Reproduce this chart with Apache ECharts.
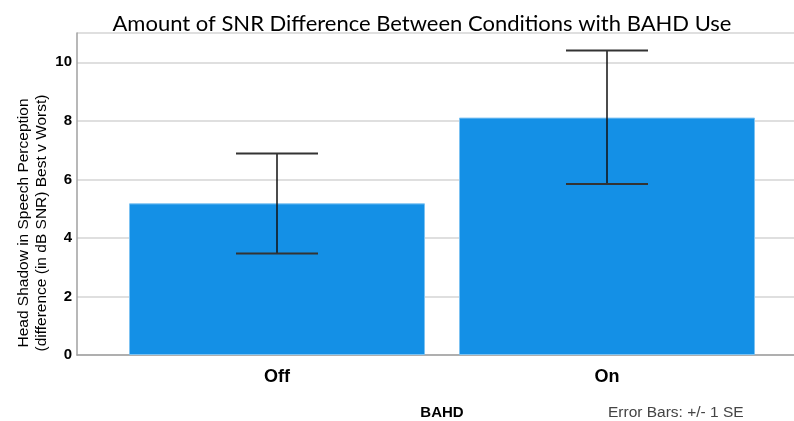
<!DOCTYPE html>
<html><head><meta charset="utf-8">
<script src="https://cdn.jsdelivr.net/npm/echarts@6/dist/echarts.min.js"></script>
<style>html,body{margin:0;padding:0;background:#fff}#c{width:794px;height:421px}</style>
</head><body><div id="c"></div>
<script>
const categories = ['Off', 'On'];
const means = [5.18, 8.11];
const errLow = [3.47, 5.84];
const errHigh = [6.88, 10.40];
const yTicks = [0, 2, 4, 6, 8, 10];

const chart = echarts.init(document.getElementById('c'));
const TOP = 33, BOTTOM = 66;
chart.setOption({
  animation: false,
  title: {
    text: 'Amount of SNR Difference Between Conditions with BAHD Use',
    left: 417, top: 8, textAlign: 'center',
    textStyle: {fontFamily: 'Lato', fontSize: 22, fontWeight: 'normal', color: '#000'}
  },
  grid: [
    {left: 77, right: -1, top: TOP, bottom: BOTTOM, outerBoundsMode: 'none', containLabel: false},
    {left: 112, right: 22, top: TOP, bottom: BOTTOM, outerBoundsMode: 'none', containLabel: false}
  ],
  xAxis: [
    {type: 'value', gridIndex: 0, min: 0, max: 1, axisLabel: {show: false}, splitLine: {show: false},
     axisTick: {show: false}, axisLine: {show: true, onZero: false, lineStyle: {color: '#a0a0a0', width: 1.5}}},
    {type: 'category', gridIndex: 1, data: categories, axisLine: {show: false}, axisTick: {show: false},
     axisLabel: {margin: 13, color: '#000', fontFamily: 'Liberation Sans', fontWeight: 'bold', fontSize: 18},
     name: 'BAHD', nameLocation: 'middle', nameGap: 50,
     nameTextStyle: {color: '#000', fontFamily: 'Liberation Sans', fontWeight: 'bold', fontSize: 15}}
  ],
  yAxis: [
    {type: 'value', gridIndex: 0, min: 0, max: 11, interval: 2,
     axisLine: {show: true, lineStyle: {color: '#a0a0a0', width: 1.5}}, axisTick: {show: false},
     axisLabel: {margin: 5, color: '#000', fontFamily: 'Liberation Sans', fontWeight: 'bold', fontSize: 15,
       formatter: v => yTicks.includes(v) ? String(v) : ''},
     splitLine: {show: true, lineStyle: {color: '#d4d4d4', width: 1.5}}},
    {type: 'value', gridIndex: 1, min: 0, max: 11, interval: 2, show: false, splitLine: {show: false}}
  ],
  series: [
    {type: 'bar', xAxisIndex: 1, yAxisIndex: 1, data: means, barWidth: 296,
     itemStyle: {color: '#1490e6', borderColor: '#7cc2f2', borderWidth: 1}},
    {type: 'custom', xAxisIndex: 1, yAxisIndex: 1,
     data: categories.map((c, i) => [i, errLow[i], errHigh[i]]),
     renderItem: function (params, api) {
       const lo = api.coord([api.value(0), api.value(1)]);
       const hi = api.coord([api.value(0), api.value(2)]);
       const hw = 41;
       const st = {stroke: '#111', lineWidth: 1.5};
       const cap = {stroke: '#333', lineWidth: 2};
       return {type: 'group', children: [
         {type: 'line', shape: {x1: lo[0], y1: lo[1], x2: hi[0], y2: hi[1]}, style: st},
         {type: 'line', shape: {x1: hi[0] - hw, y1: hi[1], x2: hi[0] + hw, y2: hi[1]}, style: cap},
         {type: 'line', shape: {x1: lo[0] - hw, y1: lo[1], x2: lo[0] + hw, y2: lo[1]}, style: cap}
       ]};
     }, z: 5}
  ],
  graphic: [
    {type: 'text', x: 33, y: 223, rotation: Math.PI / 2,
     style: {text: 'Head Shadow in Speech Perception\n(difference (in dB SNR) Best v Worst)',
       fill: '#000', fontFamily: 'Liberation Sans', fontSize: 15.5, lineHeight: 18,
       align: 'center', verticalAlign: 'middle'}},
    {type: 'text', x: 608, y: 413,
     style: {text: 'Error Bars: +/- 1 SE', fill: '#444', fontFamily: 'Liberation Sans', fontSize: 15.5,
       verticalAlign: 'middle'}}
  ]
});
</script></body></html>
